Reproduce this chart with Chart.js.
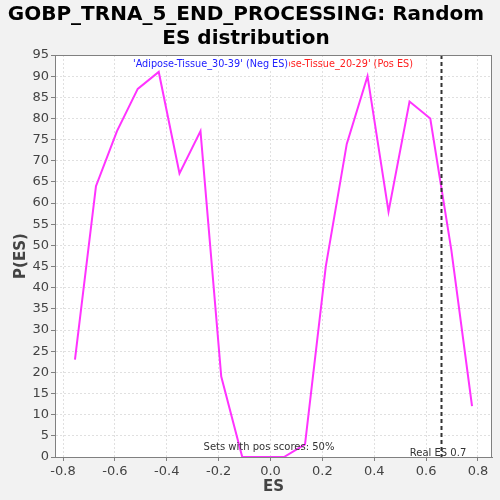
<!DOCTYPE html>
<html>
<head>
<meta charset="utf-8">
<script src="https://cdn.jsdelivr.net/npm/chart.js@4/dist/chart.umd.min.js"></script>
<style>
  html, body { margin: 0; padding: 0; background: #f2f2f2; }
  #wrap { width: 500px; height: 500px; }
</style>
</head>
<body>
<div id="wrap"><canvas id="c" width="500" height="500"></canvas></div>
<script>
const titleLines = ["GOBP_TRNA_5_END_PROCESSING: Random", "ES distribution"];
const esValues = [-0.754, -0.673, -0.592, -0.512, -0.431, -0.351, -0.270, -0.190, -0.109, -0.028,
                  0.052, 0.133, 0.213, 0.294, 0.374, 0.455, 0.536, 0.616, 0.697, 0.777];
const pValues = [23, 64, 77, 87, 91, 67, 77, 19, 0, 0,
                 0, 3, 45, 74, 90, 58, 84, 80, 49, 12];
const xTicks = [-0.8, -0.6, -0.4, -0.2, 0.0, 0.2, 0.4, 0.6, 0.8];
const yTicks = [0, 5, 10, 15, 20, 25, 30, 35, 40, 45, 50, 55, 60, 65, 70, 75, 80, 85, 90, 95];
const realES = 0.657;
const realESLabel = "Real ES 0.7";
const posLabel = "Sets with pos scores: 50%";
const negLegend = "'Adipose-Tissue_30-39' (Neg ES)";
const posLegend = "'Adipose-Tissue_20-29' (Pos ES)";

const FONT = "'DejaVu Sans', sans-serif";

const decor = {
  id: 'decor',
  beforeDraw(chart) {
    const ctx = chart.ctx, a = chart.chartArea;
    ctx.save();
    ctx.fillStyle = '#f2f2f2';
    ctx.fillRect(0, 0, chart.width, chart.height);
    ctx.fillStyle = '#ffffff';
    ctx.fillRect(a.left, a.top, a.right - a.left, a.bottom - a.top);
    ctx.restore();
  },
  afterDatasetsDraw(chart) {
    const ctx = chart.ctx, a = chart.chartArea;
    const xs = chart.scales.x;
    ctx.save();
    const px = Math.round(xs.getPixelForValue(realES)) + 0.5;
    ctx.strokeStyle = '#333333';
    ctx.lineWidth = 2;
    ctx.setLineDash([4, 3]);
    ctx.beginPath();
    ctx.moveTo(px, a.top);
    ctx.lineTo(px, a.bottom);
    ctx.stroke();
    ctx.setLineDash([]);
    ctx.strokeStyle = '#808080';
    ctx.lineWidth = 1;
    ctx.strokeRect(a.left + 0.5, a.top + 0.5, a.right - a.left - 1, a.bottom - a.top);
    ctx.font = '9.7px ' + FONT;
    ctx.textBaseline = 'middle';
    ctx.textAlign = 'right';
    ctx.fillStyle = '#ff2020';
    ctx.fillText(posLegend, 413, 64);
    ctx.textAlign = 'left';
    const w = ctx.measureText(negLegend).width;
    ctx.fillStyle = '#ffffff';
    ctx.fillRect(133, 58, w + 1, 12);
    ctx.fillStyle = '#2020ff';
    ctx.fillText(negLegend, 133, 64);
    ctx.font = '10px ' + FONT;
    ctx.fillStyle = '#333333';
    ctx.textAlign = 'center';
    ctx.fillText(posLabel, 269, 447);
    ctx.fillText(realESLabel, 438, 453);
    ctx.restore();
  }
};

new Chart(document.getElementById('c'), {
  type: 'scatter',
  data: {
    datasets: [{
      data: esValues.map((x, i) => ({ x: x, y: pValues[i] })),
      showLine: true,
      borderColor: '#ff33ff',
      borderWidth: 2,
      pointRadius: 0,
      tension: 0,
      fill: false
    }]
  },
  options: {
    responsive: false,
    animation: false,
    devicePixelRatio: 1,
    layout: { padding: { left: 0, right: 8, top: 3, bottom: 0 } },
    plugins: {
      legend: { display: false },
      tooltip: { enabled: false },
      title: {
        display: true,
        text: titleLines,
        color: '#000000',
        font: { family: FONT, size: 20, weight: 'bold', lineHeight: 1.2 },
        padding: { top: 0, bottom: 4 }
      }
    },
    scales: {
      x: {
        type: 'linear',
        min: -0.831,
        max: 0.854,
        afterBuildTicks(s) { s.ticks = xTicks.map(v => ({ value: v })); },
        afterFit(s) { s.height = 43; },
        ticks: {
          autoSkip: false,
          maxRotation: 0,
          padding: 3,
          color: '#444444',
          font: { family: FONT, size: 13 },
          callback: v => v.toFixed(1)
        },
        grid: {
          color: '#e0e0e0',
          tickColor: '#808080',
          tickLength: 4,
          drawTicks: true
        },
        border: { display: true, color: '#808080', dash: [2, 2] },
        title: {
          display: true,
          text: 'ES',
          color: '#444444',
          font: { family: FONT, size: 15, weight: 'bold' },
          padding: { top: 4, bottom: 4 }
        }
      },
      y: {
        type: 'linear',
        min: 0,
        max: 95,
        afterBuildTicks(s) { s.ticks = yTicks.map(v => ({ value: v })); },
        afterFit(s) { s.width = 55; },
        ticks: {
          autoSkip: false,
          padding: 2,
          color: '#444444',
          font: { family: FONT, size: 13 },
          callback: v => String(v)
        },
        grid: {
          color: '#e0e0e0',
          tickColor: '#808080',
          tickLength: 4
        },
        border: { display: true, color: '#808080', dash: [2, 2] },
        title: {
          display: true,
          text: 'P(ES)',
          color: '#444444',
          font: { family: FONT, size: 15, weight: 'bold' },
          padding: { top: 12, bottom: 0 }
        }
      }
    }
  },
  plugins: [decor]
});
</script>
</body>
</html>
